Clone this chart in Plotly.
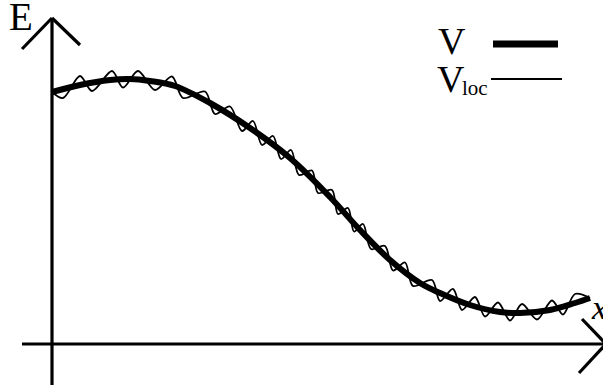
import plotly.graph_objects as go

# Smooth energy profile V along the coordinate x (arbitrary units)
x_v = [0, 28, 58, 78, 98, 123, 158, 198, 238, 278, 308, 338, 368, 388,
       418, 448, 468, 498, 523, 538]
E_v = [252, 259, 264, 265, 263, 258, 241, 216, 186, 147, 114, 84, 61, 51,
       39, 32, 31, 34, 41, 46]

# Local (fluctuating) energy V_loc wiggling about V
x_loc = [0, 11, 28, 40, 60, 71, 86, 103, 120, 131, 153, 163, 178, 190, 201,
         210, 221, 229, 239, 247, 260, 266, 280, 286, 296, 302, 311, 319,
         333, 341, 353, 361, 380, 388, 401, 410, 423, 433, 446, 458, 470,
         485, 500, 511, 523, 538]
E_loc = [252, 246, 268, 253, 273, 256.5, 273, 254, 267.5, 246, 252.5, 230,
         237.5, 213, 223, 199, 208, 185, 194, 169, 173.5, 151, 154, 130, 136,
         112.5, 120, 95, 98, 73.5, 81.5, 58, 64, 43, 55, 34, 47, 27.5, 41.5,
         23.5, 40, 24.5, 43.5, 29.5, 50, 46]

legend_symbol = "V"
legend_subscripts = ["", "loc"]
axis_labels = ["E", "x"]

SERIF = "Liberation Serif, Times New Roman, serif"
X_RANGE = [-52, 551]
Y_RANGE = [-46, 344]

fig = go.Figure()

# thin fluctuating curve
fig.add_trace(go.Scatter(
    x=x_loc, y=E_loc, mode="lines",
    line=dict(color="black", width=1.8, shape="spline", smoothing=0.9),
    hoverinfo="skip", showlegend=False))

# thick smooth curve
fig.add_trace(go.Scatter(
    x=x_v, y=E_v, mode="lines",
    line=dict(color="black", width=6, shape="spline", smoothing=1.0),
    hoverinfo="skip", showlegend=False))

# legend sample lines
fig.add_trace(go.Scatter(
    x=[441, 506], y=[300, 300], mode="lines",
    line=dict(color="black", width=7), hoverinfo="skip", showlegend=False))
fig.add_trace(go.Scatter(
    x=[439, 510], y=[265, 265], mode="lines",
    line=dict(color="black", width=2.2), hoverinfo="skip", showlegend=False))

# coordinate axes with open arrow heads
axis_style = dict(color="black", width=3.2)
shapes = [
    dict(type="line", x0=0, y0=-41, x1=0, y1=326, line=axis_style),
    dict(type="line", x0=-30, y0=295, x1=0, y1=326, line=axis_style),
    dict(type="line", x0=28, y0=299, x1=0, y1=326, line=axis_style),
    dict(type="line", x0=-30, y0=0, x1=554, y1=0, line=axis_style),
    dict(type="line", x0=530, y0=25, x1=554, y1=0, line=axis_style),
    dict(type="line", x0=527, y0=-29, x1=554, y1=0, line=axis_style),
]
for s in shapes:
    s.update(xref="x", yref="y", layer="above")


def label(x, y, text, size, italic=False, anchor="left"):
    return dict(x=x, y=y, text=text, showarrow=False,
                font=dict(family=SERIF, size=size, color="black",
                          style="italic" if italic else "normal"),
                xanchor=anchor, yanchor="middle")


annotations = [
    label(-31, 328, axis_labels[0], 39, anchor="center"),
    label(537, 37, axis_labels[1], 34, italic=True),
    label(384, 303, legend_symbol + legend_subscripts[0], 38),
    label(383, 265, legend_symbol, 38),
    label(408, 256, legend_subscripts[1], 21),
]

fig.update_layout(
    width=603, height=390,
    margin=dict(l=0, r=0, t=0, b=0),
    paper_bgcolor="white", plot_bgcolor="white",
    xaxis=dict(range=X_RANGE, visible=False, fixedrange=True),
    yaxis=dict(range=Y_RANGE, visible=False, fixedrange=True),
    shapes=shapes, annotations=annotations,
    showlegend=False,
)

fig.write_html("out.html")
